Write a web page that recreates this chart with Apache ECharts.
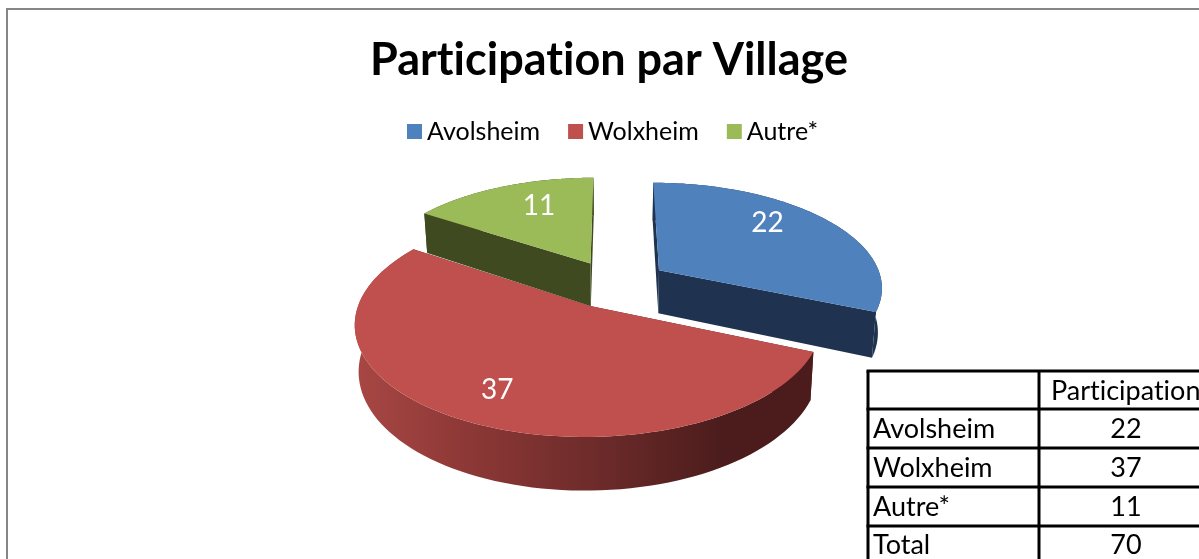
<!DOCTYPE html>
<html><head><meta charset="utf-8">
<style>html,body{margin:0;padding:0;background:#fff}#c{width:1199px;height:559px}</style>
<script src="https://cdn.jsdelivr.net/npm/echarts@6/dist/echarts.min.js"></script>
</head><body><div id="c"></div>
<script>
var titleText = 'Participation par Village';
var villages = ['Avolsheim', 'Wolxheim', 'Autre*'];
var participation = [22, 37, 11];
var tableHeader = ['', 'Participation'];
var totalLabel = 'Total';
var totalValue = 70;
var topColors = ['#4F81BD', '#C0504D', '#9BBB59'];
var wallColors = ['#1F3350', null, '#3F4A21'];
var redWallStops = [[0, '#A84744'], [0.25, '#8C3836'], [0.55, '#6A2A29'], [0.8, '#4C1C1C'], [1, '#4C1C1C']];
var labelSliceFrac = [0.42, 0.493, 0.60];
var labelRadFrac = [0.74, 0.76, 0.70];
var explodeBySlice = [57, 53, 53];
var paintOrder = [2, 0, 1];

// Draw text without the Lato "ti" ligature so words read like the reference.
['fillText', 'strokeText', 'measureText'].forEach(function (m) {
  var orig = CanvasRenderingContext2D.prototype[m];
  CanvasRenderingContext2D.prototype[m] = function () {
    this.textRendering = 'optimizeSpeed';
    return orig.apply(this, arguments);
  };
});

var FONT = 'Lato';
var CX = 614, CY = 284, R = 232, XS = 0.965, K = 0.45, P = 0.15, DEPTH = 44, BOTTOM_SHRINK = 0.985;
var total = participation.reduce(function (a, b) { return a + b; }, 0);

function project(wx, wv, depth) {
  var s = 1 / (1 + P * wv / R);
  var b = depth ? BOTTOM_SHRINK : 1;
  return [CX + XS * wx * s * b, CY - K * wv * s + (depth ? DEPTH * s : 0)];
}
function sliceAngles(i) {
  var start = 0;
  for (var j = 0; j < i; j++) start += participation[j] / total * 2 * Math.PI;
  return [start, start + participation[i] / total * 2 * Math.PI];
}
function renderSlice(i) {
  return function (params, api) {
    var val = api.value(0);
    var ang = sliceAngles(i);
    var a0 = ang[0], a1 = ang[1];
    var mid = (a0 + a1) / 2;
    var ox = explodeBySlice[i] * Math.sin(mid), ov = explodeBySlice[i] * Math.cos(mid);
    var n = 90, arcTop = [], arcBot = [];
    for (var k = 0; k <= n; k++) {
      var t = a0 + (a1 - a0) * k / n;
      var wx = ox + R * Math.sin(t), wv = ov + R * Math.cos(t);
      arcTop.push(project(wx, wv, false));
      arcBot.push(project(wx, wv, true));
    }
    var apexTop = project(ox, ov, false), apexBot = project(ox, ov, true);
    var wallFill = wallColors[i] || new echarts.graphic.LinearGradient(0, 0, 1, 0,
      redWallStops.map(function (s) { return { offset: s[0], color: s[1] }; }));
    var wallColor = wallColors[i] || '#4C1C1C';
    var children = [];
    function poly(pts, fill) {
      children.push({ type: 'polygon', shape: { points: pts }, style: { fill: fill, stroke: null }, silent: true });
    }
    poly([apexTop, arcTop[0], arcBot[0], apexBot], wallColor);
    poly([apexTop, arcTop[n], arcBot[n], apexBot], wallColor);
    poly(arcTop.concat(arcBot.slice().reverse()), wallFill);
    poly([apexTop].concat(arcTop), topColors[i]);
    var lt = a0 + (a1 - a0) * labelSliceFrac[i];
    var lp = project(ox + labelRadFrac[i] * R * Math.sin(lt), ov + labelRadFrac[i] * R * Math.cos(lt), false);
    children.push({ type: 'text', x: lp[0], y: lp[1], silent: true,
      style: { text: String(val), fill: '#fff', font: '28px ' + FONT, align: 'center', verticalAlign: 'middle' } });
    return { type: 'group', children: children };
  };
}

var series = paintOrder.map(function (i, idx) {
  return { type: 'custom', name: villages[i], coordinateSystem: 'none', z: 2 + idx,
    itemStyle: { color: topColors[i] }, animation: false,
    renderItem: renderSlice(i), data: [[participation[i]]] };
});

// side table
var TX = [868, 1039, 1260], TY = [371, 409, 448, 487, 526, 590];
var rows = [tableHeader].concat(villages.map(function (v, i) { return [v, String(participation[i])]; }), [[totalLabel, String(totalValue)]]);
var graphic = [
  { type: 'rect', shape: { x: 7, y: 9, width: 1300, height: 700 }, style: { fill: 'none', stroke: '#868686', lineWidth: 2 }, z: 0 }
];
TY.forEach(function (y) {
  graphic.push({ type: 'line', shape: { x1: TX[0] - 1.5, y1: y, x2: TX[2], y2: y }, style: { stroke: '#000', lineWidth: 3 }, z: 20 });
});
TX.forEach(function (x) {
  graphic.push({ type: 'line', shape: { x1: x, y1: TY[0], x2: x, y2: TY[5] }, style: { stroke: '#000', lineWidth: 3 }, z: 20 });
});
rows.forEach(function (r, ri) {
  var yc = (TY[ri] + TY[ri + 1]) / 2 + 1;
  if (ri === 4) yc = 545;
  if (r[0]) graphic.push({ type: 'text', x: 873, y: yc, z: 21,
    style: { text: r[0], fill: '#000', font: '27px ' + FONT, align: 'left', verticalAlign: 'middle' } });
  if (ri === 0) graphic.push({ type: 'text', x: 1051, y: yc, z: 21,
    style: { text: r[1], fill: '#000', font: '27px ' + FONT, align: 'left', verticalAlign: 'middle' } });
  else graphic.push({ type: 'text', x: 1126, y: yc, z: 21,
    style: { text: r[1], fill: '#000', font: '27px ' + FONT, align: 'center', verticalAlign: 'middle' } });
});

var chart = echarts.init(document.getElementById('c'), null, { renderer: 'canvas' });
chart.setOption({
  animation: false,
  backgroundColor: '#fff',
  title: { text: titleText, left: 604, top: 33, textAlign: 'center',
    textStyle: { fontFamily: FONT, fontWeight: 'bold', fontSize: 45, color: '#000' } },
  legend: { data: villages, left: 402, top: 114, icon: 'rect', itemWidth: 15, itemHeight: 15, itemGap: 28,
    textStyle: { fontFamily: FONT, fontSize: 25, color: '#000' } },
  graphic: graphic,
  series: series
});
</script></body></html>
